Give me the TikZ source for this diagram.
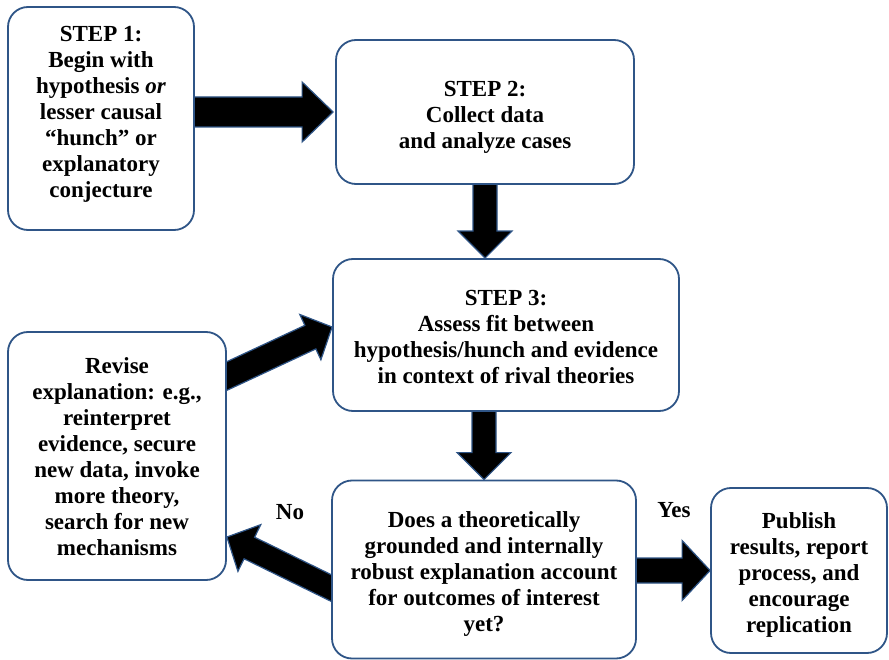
\documentclass[tikz,border=0pt]{standalone}
\usepackage{fontspec}
\setmainfont{Liberation Serif}
\usetikzlibrary{calc}
\definecolor{boxblue}{RGB}{47,85,135}
\pgfdeclarelayer{bg}
\pgfsetlayers{bg,main}
\tikzset{
  box/.style={draw=boxblue, line width=1.8pt, rounded corners=20pt, fill=white, inner sep=0pt},
  txt/.style={align=center, inner sep=0pt, font=\bfseries\fontsize{23}{26}\selectfont},
  blockarr/.style={fill=black, draw=boxblue, line width=1.2pt, line join=miter},
  lbl/.style={font=\bfseries\fontsize{23}{26}\selectfont, inner sep=0pt}
}
% #1 start, #2 tip, #3 shaft half width, #4 head half width, #5 head length
\newcommand{\blockarrow}[5]{%
  \coordinate (ba-s) at ($(#1)!-25pt!(#2)$);
  \coordinate (ba-h) at ($(#2)!#5!(#1)$);
  \path[blockarr] ($(ba-s)!#3!90:(#2)$) -- ($(ba-h)!#3!-90:(#1)$) -- ($(ba-h)!#4!-90:(#1)$)
    -- (#2) -- ($(ba-h)!#4!90:(#1)$) -- ($(ba-h)!#3!90:(#1)$) -- ($(ba-s)!#3!-90:(#2)$) -- cycle;
}
\begin{document}
\begin{tikzpicture}[x=1pt,y=-1pt]
\path[use as bounding box] (0,0) rectangle (889,660);

\node[box, minimum width=186pt, minimum height=223pt] (s1) at (101,118.5) {};
\node[box, minimum width=298pt, minimum height=144pt] (s2) at (485,112) {};
\node[box, minimum width=346pt, minimum height=152pt] (s3) at (506,335) {};
\node[box, minimum width=218pt, minimum height=248pt] (s4) at (117,456) {};
\node[box, minimum width=304pt, minimum height=178pt] (s5) at (484,569.5) {};
\node[box, minimum width=176pt, minimum height=165pt] (s6) at (799,570.5) {};

\node[txt] (t1) at ($(s1.center)+(0,-4)$)
  {STEP 1:\\Begin with\\hypothesis \textit{or}\\lesser causal\\“hunch” or\\explanatory\\conjecture};
\node[txt] (t2) at ($(s2.center)+(0,5)$)
  {STEP 2:\\Collect data\\and analyze cases};
\node[txt] (t3) at ($(s3.center)+(0,2)$)
  {STEP 3:\\Assess fit between\\hypothesis/hunch and evidence\\in context of rival theories};
\node[txt] (t4) at ($(s4.center)+(0,1)$)
  {Revise\\explanation: e.g.,\\reinterpret\\evidence, secure\\new data, invoke\\more theory,\\search for new\\mechanisms};
\node[txt] (t5) at ($(s5.center)+(0,4)$)
  {Does a theoretically\\grounded and internally\\robust explanation account\\for outcomes of interest\\yet?};
\node[txt] (t6) at ($(s6.center)+(0,4)$)
  {Publish\\results, report\\process, and\\encourage\\replication};

\node[lbl] (yes) at (674,510) {Yes};
\node[lbl] (no) at (290,512) {No};

\coordinate (a1s) at (s1.east |- s2.west);
\coordinate (a1e) at ($(s2.west)+(-2,0)$);
\coordinate (a2s) at (s2.south);
\coordinate (a2e) at (s2.south |- s3.north);
\coordinate (a3s) at (s5.north |- s3.south);
\coordinate (a3e) at (s5.north);
\coordinate (a4s) at ($(s4.east)+(0,-80)$);
\coordinate (a4e) at ($(s3.west)+(0,-8)$);
\coordinate (a5s) at ($(s5.west)+(0,18.5)$);
\coordinate (a5e) at ($(s4.east)+(0,81)$);
\coordinate (a6s) at (s5.east |- s6.west);
\coordinate (a6e) at (s6.west);

\begin{pgfonlayer}{bg}
\fill[white] (0,0) rectangle (889,660);
\blockarrow{a1s}{a1e}{15pt}{30pt}{31pt}
\blockarrow{a2s}{a2e}{12pt}{27pt}{27pt}
\blockarrow{a3s}{a3e}{12pt}{27pt}{27pt}
\blockarrow{a4s}{a4e}{13pt}{25pt}{24pt}
\blockarrow{a5s}{a5e}{12pt}{26pt}{25pt}
\blockarrow{a6s}{a6e}{12.5pt}{30pt}{28pt}
\end{pgfonlayer}
\end{tikzpicture}
\end{document}
